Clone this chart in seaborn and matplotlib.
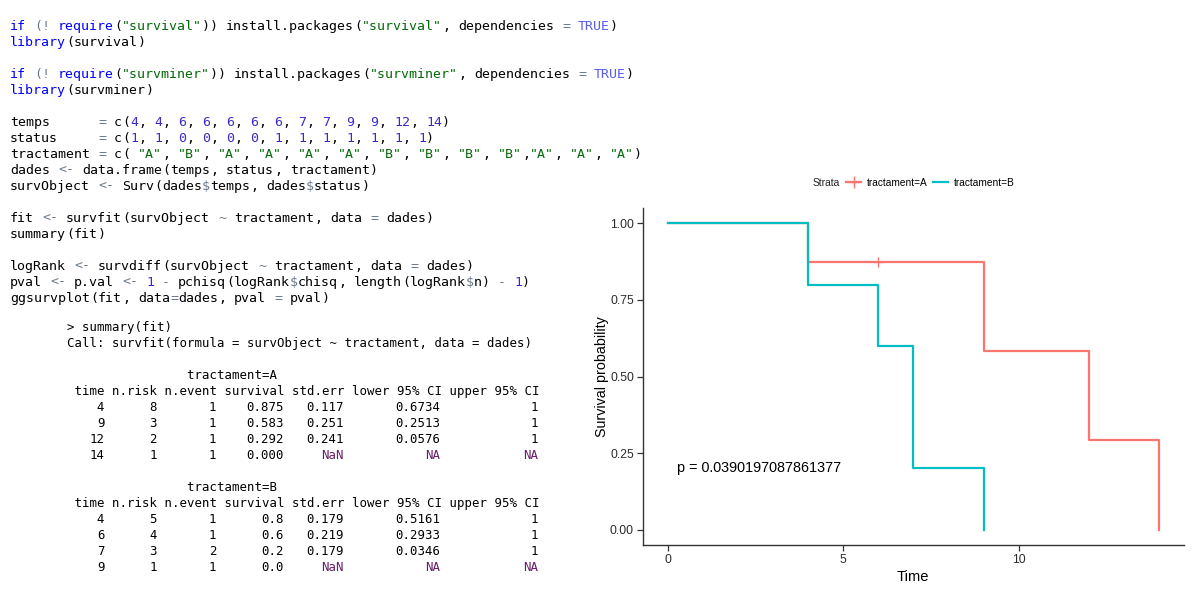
import re
import matplotlib
matplotlib.use("Agg")
import matplotlib.pyplot as plt
from matplotlib.lines import Line2D
import numpy as np
import pandas as pd
import seaborn as sns

# ---------------- data ----------------
code_lines = [
    'if (! require("survival")) install.packages("survival", dependencies = TRUE)',
    'library(survival)',
    '',
    'if (! require("survminer")) install.packages("survminer", dependencies = TRUE)',
    'library(survminer)',
    '',
    'temps      = c(4, 4, 6, 6, 6, 6, 6, 7, 7, 9, 9, 12, 14)',
    'status     = c(1, 1, 0, 0, 0, 0, 1, 1, 1, 1, 1, 1, 1)',
    'tractament = c( "A", "B", "A", "A", "A", "A", "B", "B", "B", "B","A", "A", "A")',
    'dades <- data.frame(temps, status, tractament)',
    'survObject <- Surv(dades$temps, dades$status)',
    '',
    'fit <- survfit(survObject ~ tractament, data = dades)',
    'summary(fit)',
    '',
    'logRank <- survdiff(survObject ~ tractament, data = dades)',
    'pval <- p.val <- 1 - pchisq(logRank$chisq, length(logRank$n) - 1)',
    'ggsurvplot(fit, data=dades, pval = pval)',
]

table_header = " time n.risk n.event survival std.err lower 95% CI upper 95% CI"
strata_names = ["tractament=A", "tractament=B"]

time_A = [4, 9, 12, 14]
nrisk_A = [8, 3, 2, 1]
nevent_A = [1, 1, 1, 1]
surv_A = ["0.875", "0.583", "0.292", "0.000"]
stderr_A = ["0.117", "0.251", "0.241", "NaN"]
lower_A = ["0.6734", "0.2513", "0.0576", "NA"]
upper_A = ["1", "1", "1", "NA"]

time_B = [4, 6, 7, 9]
nrisk_B = [5, 4, 3, 1]
nevent_B = [1, 1, 2, 1]
surv_B = ["0.8", "0.6", "0.2", "0.0"]
stderr_B = ["0.179", "0.219", "0.179", "NaN"]
lower_B = ["0.5161", "0.2933", "0.0346", "NA"]
upper_B = ["1", "1", "1", "NA"]

censor_time_A = [6]
censor_surv_A = [0.875]

pval_text = "p = 0.0390197087861377"
x_ticks = [0, 5, 10]
y_ticks = [0.00, 0.25, 0.50, 0.75, 1.00]
y_tick_labels = ["0.00", "0.25", "0.50", "0.75", "1.00"]
colors = {"tractament=A": "#F8766D", "tractament=B": "#00BFC4"}

# ---------------- figure ----------------
W, H = 1194, 594
fig = plt.figure(figsize=(W / 100, H / 100), dpi=100)
fig.patch.set_facecolor("white")

def px_text(x, y, s, **kw):
    fig.text(x / W, 1 - y / H, s, **kw)

# ---- R code with syntax colouring ----
KW = {"if", "require", "library"}
CONST = {"TRUE", "FALSE"}
tok_re = re.compile(r'"[^"]*"|\d+(?:\.\d+)?|[A-Za-z_.][A-Za-z0-9_.]*|<-|[!=~$\-]|\S')
code_x0, code_y0, code_dy, code_cw = 10, 25, 16, 8.0
code_fs = code_cw / (0.602 * 100 / 72)
for i, line in enumerate(code_lines):
    for m in tok_re.finditer(line):
        t = m.group(0)
        if t.startswith('"'):
            c = "#036A07"
        elif t in KW:
            c = "#0000FF"
        elif t in CONST:
            c = "#585CF6"
        elif re.fullmatch(r"\d+(?:\.\d+)?", t):
            c = "#3A2BC8"
        elif t in ("<-", "!", "=", "~", "$", "-"):
            c = "#687687"
        elif t == "(" and line[:m.start()].rstrip() == "if":
            c = "#687687"
        else:
            c = "#000000"
        px_text(code_x0 + m.start() * code_cw, code_y0 + i * code_dy + 4.6, t,
                family="DejaVu Sans Mono", fontsize=code_fs, color=c, va="baseline", ha="left")

# ---- console output ----
con_x0, con_y0, con_dy, con_cw = 67, 326.7, 16, 7.47
con_fs = con_cw / (0.602 * 100 / 72)

def con_line(j, s, color="#000000", col=0):
    if s:
        px_text(con_x0 + col * con_cw, con_y0 + j * con_dy + 4.2, s,
                family="DejaVu Sans Mono", fontsize=con_fs, color=color, va="baseline", ha="left")

con_line(0, "> summary(fit)")
con_line(1, "Call: survfit(formula = survObject ~ tractament, data = dades)")

def table_block(j0, name, tt, nr, ne, sv, se, lo, up):
    con_line(j0, " " * 16 + name)
    con_line(j0 + 1, table_header)
    for k in range(len(tt)):
        fields = [(str(tt[k]), 4), (str(nr[k]), 11), (str(ne[k]), 19), (sv[k], 28),
                  (se[k], 36), (lo[k], 49), (up[k], 62)]
        for val, right in fields:
            col = right - len(val) + 1
            color = "#6A1B6A" if val in ("NaN", "NA") else "#000000"
            con_line(j0 + 2 + k, val, color=color, col=col)

table_block(3, strata_names[0], time_A, nrisk_A, nevent_A, surv_A, stderr_A, lower_A, upper_A)
table_block(10, strata_names[1], time_B, nrisk_B, nevent_B, surv_B, stderr_B, lower_B, upper_B)

# ---------------- survival plot ----------------
rows = []
for name, tt, sv in [(strata_names[0], time_A, surv_A), (strata_names[1], time_B, surv_B)]:
    rows.append({"Time": 0, "Survival": 1.0, "Strata": name})
    for t, s in zip(tt, sv):
        rows.append({"Time": t, "Survival": float(s), "Strata": name})
df = pd.DataFrame(rows)

ax = fig.add_axes([643 / W, (H - 545) / H, 540.7 / W, 337 / H])
sns.lineplot(data=df, x="Time", y="Survival", hue="Strata", palette=colors,
             hue_order=strata_names, estimator=None, sort=False,
             drawstyle="steps-post", linewidth=1.6, legend=False, ax=ax)
ax.scatter(censor_time_A, censor_surv_A, marker="+", s=45, linewidths=1.0,
           color=colors[strata_names[0]], zorder=1)

ax.set_xlim(-0.7, 14.7)
ax.set_ylim(-0.05, 1.05)
ax.set_xticks(x_ticks)
ax.set_xticklabels([str(v) for v in x_ticks])
ax.set_yticks(y_ticks)
ax.set_yticklabels(y_tick_labels)
for sp in ("top", "right"):
    ax.spines[sp].set_visible(False)
for sp in ("left", "bottom"):
    ax.spines[sp].set_color("#333333")
    ax.spines[sp].set_linewidth(1.0)
ax.tick_params(axis="both", length=4, width=0.9, color="#333333",
               labelsize=8.8, labelcolor="#2b2b2b", pad=2.5)
for lab in ax.get_xticklabels() + ax.get_yticklabels():
    lab.set_family("Liberation Sans")
ax.set_xlabel("Time", family="Liberation Sans", fontsize=10.6, labelpad=3)
ax.set_ylabel("Survival probability", family="Liberation Sans", fontsize=10.3, labelpad=0.5)
ax.set_facecolor("white")

ax.text(0.26, 0.2, pval_text, family="Liberation Sans", fontsize=10.4,
        va="center", ha="left", color="black")

# legend at top
px_text(813, 183, "Strata", family="Liberation Sans", fontsize=7.4, va="center", ha="left", color="#222222")
handles = [Line2D([0], [0], color=colors[strata_names[0]], lw=1.6, marker="+", markersize=8, markeredgewidth=1.0),
           Line2D([0], [0], color=colors[strata_names[1]], lw=1.6)]
fig.legend(handles, strata_names, loc="center left", bbox_to_anchor=(846 / W, 1 - 183 / H),
           ncol=2, frameon=False, prop={"family": "Liberation Sans", "size": 7.3},
           handlelength=1.5, handletextpad=0.55, columnspacing=0.5, borderpad=0, borderaxespad=0)

fig.savefig("out.png", dpi=100, facecolor="white")
